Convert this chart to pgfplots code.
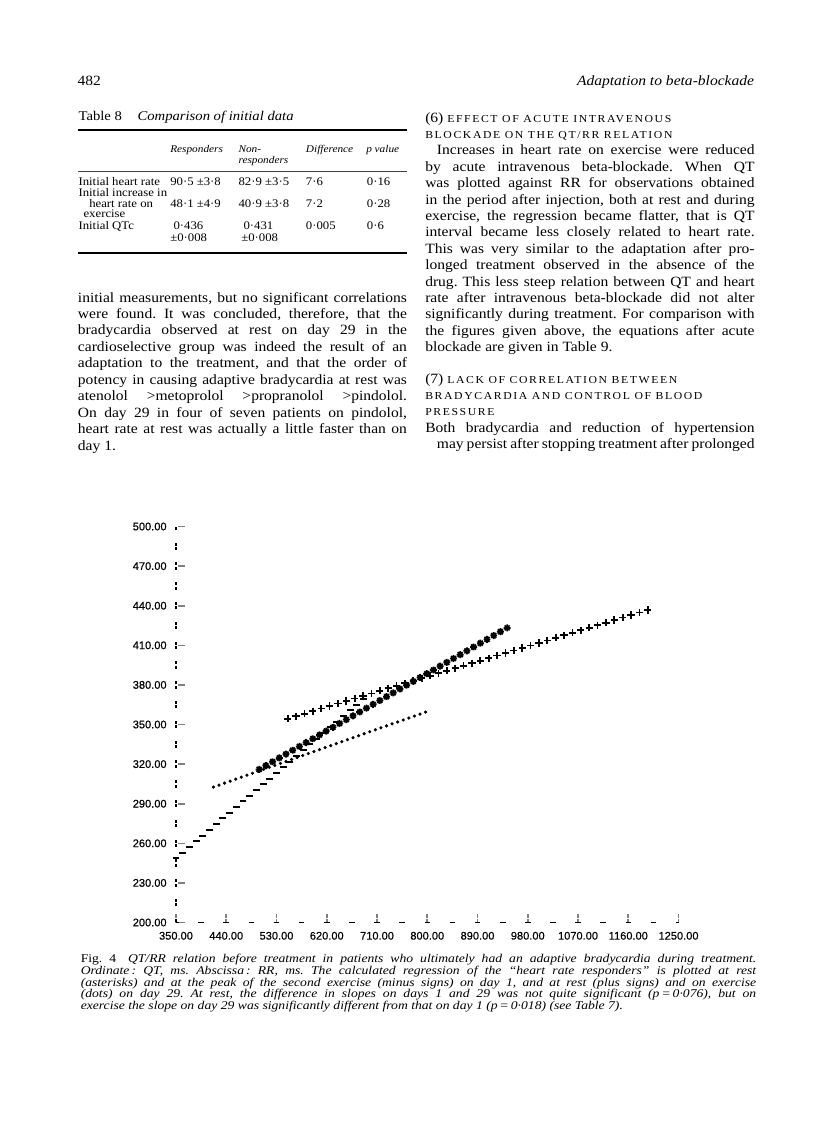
\documentclass[border=0pt]{standalone}
\usepackage{fontspec}
\setmainfont{Liberation Serif}[FakeStretch=1.1]
\newfontfamily\capfam{Liberation Serif}[FakeStretch=1.15]
\newfontfamily\chartfont{Liberation Sans}[FakeBold=0.4]
\usepackage{pgfplots}
\pgfplotsset{compat=1.18}
\frenchspacing

\pgfdeclareplotmark{ast8}{%
 \pgfpathmoveto{\pgfqpoint{0pt}{\pgfplotmarksize}}%
 \pgfpathlineto{\pgfqpoint{0pt}{-\pgfplotmarksize}}%
 \pgfpathmoveto{\pgfqpoint{\pgfplotmarksize}{0pt}}%
 \pgfpathlineto{\pgfqpoint{-\pgfplotmarksize}{0pt}}%
 \pgfpathmoveto{\pgfqpoint{0.707\pgfplotmarksize}{0.707\pgfplotmarksize}}%
 \pgfpathlineto{\pgfqpoint{-0.707\pgfplotmarksize}{-0.707\pgfplotmarksize}}%
 \pgfpathmoveto{\pgfqpoint{-0.707\pgfplotmarksize}{0.707\pgfplotmarksize}}%
 \pgfpathlineto{\pgfqpoint{0.707\pgfplotmarksize}{-0.707\pgfplotmarksize}}%
 \pgfusepathqstroke}

\newcommand\bodyfont{\fontsize{10.6}{12.3}\selectfont}
\newcommand\capfont{\capfam\fontsize{8.9}{9.5}\selectfont\itshape}
\newcommand\tabfont{\fontsize{8.7}{10}\selectfont}
\newcommand\tabhead{\fontsize{7.7}{9}\selectfont\itshape}
\newcommand\hsc[1]{{\fontsize{8}{9}\selectfont\addfontfeature{LetterSpace=15}#1}}
\newcommand\JL[4]{\node[anchor=base west,inner sep=0pt] at (#1,#2) {\makebox[#3pt][s]{#4}};}
\newcommand\TL[3]{\node[anchor=base west,inner sep=0pt] at (#1,#2) {#3};}

\begin{document}
\begin{tikzpicture}
\begin{scope}[x=0.75pt,y=-0.75pt]
\useasboundingbox (0,0) rectangle (816,1121);
% page header
\TL{77.3}{85.5}{\bodyfont 482}
\node[anchor=base east,inner sep=0pt] at (754.3,85.5) {\bodyfont\itshape Adaptation to beta-blockade};
% Table 8
\TL{78.3}{120}{\fontsize{10}{12}\selectfont Table 8}
\TL{137.3}{120}{\fontsize{10}{12}\selectfont\itshape Comparison of initial data}
\draw[line width=1.6pt] (78.3,130) -- (406.7,130);
\TL{170}{152.7}{\tabhead Responders}
\TL{238.3}{152.7}{\tabhead Non-}
\TL{238.3}{163.3}{\tabhead responders}
\TL{305.7}{152.7}{\tabhead Difference}
\TL{366}{152.7}{\tabhead p value}
\draw[line width=0.5pt,black!75] (78.3,171.7) -- (406.7,171.7);
\TL{78.3}{185}{\tabfont Initial heart rate}
\TL{170}{185}{\tabfont 90·5 ±3·8}
\TL{238.3}{185}{\tabfont 82·9 ±3·5}
\TL{305.7}{185}{\tabfont 7·6}
\TL{366.7}{185}{\tabfont 0·16}
\TL{78.3}{196}{\tabfont Initial increase in}
\TL{89}{207.3}{\tabfont heart rate on}
\TL{170}{207.3}{\tabfont 48·1 ±4·9}
\TL{238.3}{207.3}{\tabfont 40·9 ±3·8}
\TL{305.7}{207.3}{\tabfont 7·2}
\TL{366.7}{207.3}{\tabfont 0·28}
\TL{83.3}{217.3}{\tabfont exercise}
\TL{78.3}{229.3}{\tabfont Initial QTc}
\TL{173.3}{229.3}{\tabfont 0·436}
\TL{243.3}{229.3}{\tabfont 0·431}
\TL{305.7}{229.3}{\tabfont 0·005}
\TL{366.7}{229.3}{\tabfont 0·6}
\TL{170}{241.7}{\tabfont ±0·008}
\TL{241}{241.7}{\tabfont ±0·008}
\draw[line width=1.6pt] (78.3,252.7) -- (406.7,252.7);
% left column
\begin{scope}[font=\bodyfont]
\JL{77.7}{302.0}{246.75}{initial measurements, but no significant correlations}
\JL{77.7}{318.5}{246.75}{were found. It was concluded, therefore, that the}
\JL{77.7}{334.9}{246.75}{bradycardia observed at rest on day 29 in the}
\JL{77.7}{351.4}{246.75}{cardioselective group was indeed the result of an}
\JL{77.7}{367.8}{246.75}{adaptation to the treatment, and that the order of}
\JL{77.7}{384.3}{246.75}{potency in causing adaptive bradycardia at rest was}
\JL{77.7}{400.7}{246.75}{atenolol \,>metoprolol \,>propranolol \,>pindolol.}
\JL{77.7}{417.2}{246.75}{On day 29 in four of seven patients on pindolol,}
\JL{77.7}{433.6}{246.75}{heart rate at rest was actually a little faster than on}
\TL{77.7}{450.1}{day 1.}
% right column
\TL{425}{122}{(6) \hsc{EFFECT OF ACUTE INTRAVENOUS}}
\TL{425}{138.4}{\hsc{BLOCKADE ON THE QT/RR RELATION}}
\JL{436.7}{154.8}{238.2}{Increases in heart rate on exercise were reduced}
\JL{425}{171.2}{247}{by acute intravenous beta-blockade. When QT}
\JL{425}{187.6}{247}{was plotted against RR for observations obtained}
\JL{425}{204.0}{247}{in the period after injection, both at rest and during}
\JL{425}{220.4}{247}{exercise, the regression became flatter, that is QT}
\JL{425}{236.8}{247}{interval became less closely related to heart rate.}
\JL{425}{253.2}{247}{This was very similar to the adaptation after pro-}
\JL{425}{269.6}{247}{longed treatment observed in the absence of the}
\JL{425}{286.0}{247}{drug. This less steep relation between QT and heart}
\JL{425}{302.4}{247}{rate after intravenous beta-blockade did not alter}
\JL{425}{318.8}{247}{significantly during treatment. For comparison with}
\JL{425}{335.2}{247}{the figures given above, the equations after acute}
\TL{425}{351.6}{blockade are given in Table 9.}
\TL{425}{383}{(7) \hsc{LACK OF CORRELATION BETWEEN}}
\TL{425}{399.3}{\hsc{BRADYCARDIA AND CONTROL OF BLOOD}}
\TL{425}{415.6}{\hsc{PRESSURE}}
\JL{425}{432}{247}{Both bradycardia and reduction of hypertension}
\JL{436.7}{448.4}{238.2}{may persist after stopping treatment after prolonged}
\end{scope}
% caption
\begin{scope}[font=\capfont]
\JL{80.5}{962.7}{506.6}{\upshape Fig. 4\hspace{1em}\itshape QT/RR relation before treatment in patients who ultimately had an adaptive bradycardia during treatment.}
\JL{80.5}{974.4}{506.6}{Ordinate\,: QT, ms. Abscissa\,: RR, ms. The calculated regression of the “heart rate responders” is plotted at rest}
\JL{80.5}{986.1}{506.6}{(asterisks) and at the peak of the second exercise (minus signs) on day 1, and at rest (plus signs) and on exercise}
\JL{80.5}{997.8}{506.6}{(dots) on day 29. At rest, the difference in slopes on days 1 and 29 was not quite significant (p\,=\,0·076), but on}
\TL{80.5}{1009.5}{exercise the slope on day 29 was significantly different from that on day 1 (p\,=\,0·018) (see Table 7).}
\end{scope}
\end{scope}

\begin{axis}[
  at={(132pt,-691.875pt)}, anchor=south west,
  scale only axis, width=376.9pt, height=297pt,
  xmin=350, xmax=1250, ymin=200, ymax=500,
  clip=false,
  axis x line*=bottom, axis y line*=left,
  x axis line style={line width=1.2pt, dash pattern=on 4.2pt off 14.65pt, dash phase=2.1pt},
  y axis line style={line width=1.2pt, dash pattern=on 2.2pt off 1.1pt on 2.2pt off 9.35pt, dash phase=2.75pt},
  xtick={350,440,530,620,710,800,890,980,1070,1160,1250},
  xticklabels={350.00,440.00,530.00,620.00,710.00,800.00,890.00,980.00,1070.00,1160.00,1250.00},
  ytick={200,230,260,290,320,350,380,410,440,470,500},
  yticklabels={200.00,230.00,260.00,290.00,320.00,350.00,380.00,410.00,440.00,470.00,500.00},
  tick align=inside, major tick length=6.5pt,
  xtick style={line width=1.2pt, dash pattern=on 2.6pt off 1pt on 2.9pt off 0pt},
  ytick style={line width=1.2pt, dash pattern=on 0pt off 1.5pt on 5pt off 0pt},
  ticklabel style={font=\chartfont\fontsize{8.3}{9}\selectfont},
  yticklabel style={xshift=-3.5pt},
  xticklabel style={yshift=-3.5pt},
]
% rest, day 1 (asterisks)
\addplot[black, only marks, mark=ast8, mark size=2.6pt, mark options={line width=1.3pt}] coordinates {
(499,316.0)(511,318.9)(523,321.8)(535,324.7)(547,327.6)(559,330.5)(571,333.4)(583,336.3)
(595,339.2)(607,342.1)(619,345.0)(631,347.9)(643,350.8)(655,353.7)(667,356.6)(679,359.5)
(691,362.4)(703,365.3)(715,368.2)(727,371.1)(739,374.0)(751,376.9)(763,379.8)(775,382.7)
(787,385.6)(799,388.5)(811,391.3)(823,394.2)(835,397.1)(847,400.0)(859,402.9)(871,405.8)
(883,408.7)(895,411.6)(907,414.5)(919,417.4)(931,420.3)(943,423.2)};
% exercise, day 1 (minus signs)
\addplot[black, only marks, mark=-, mark size=2.6pt, mark options={line width=1.5pt}] coordinates {
(350,248.6)(362,252.9)(374,257.2)(386,261.5)(398,265.9)(410,270.2)(422,274.5)(434,278.8)
(446,283.1)(458,287.4)(470,291.7)(482,296.0)(494,300.4)(506,304.7)(518,309.0)(530,313.3)
(542,317.6)(554,321.9)(566,326.2)(578,330.5)(590,334.9)(602,339.2)(614,343.5)(626,347.8)
(638,352.1)(650,356.4)(662,360.7)(674,365.0)(686,369.4)};
% rest, day 29 (plus signs)
\addplot[black, only marks, mark=+, mark size=2.7pt, mark options={line width=1.35pt}] coordinates {
(550,354.4)(565,356.3)(580,358.2)(595,360.1)(610,362.1)(625,364.0)(640,365.9)(655,367.8)
(670,369.7)(685,371.6)(700,373.5)(715,375.5)(730,377.4)(745,379.3)(760,381.2)(775,383.1)
(790,385.0)(805,386.9)(820,388.9)(835,390.8)(850,392.7)(865,394.6)(880,396.5)(895,398.4)
(910,400.3)(925,402.3)(940,404.2)(955,406.1)(970,408.0)(985,409.9)(1000,411.8)(1015,413.7)
(1030,415.7)(1045,417.6)(1060,419.5)(1075,421.4)(1090,423.3)(1105,425.2)(1120,427.1)(1135,429.1)
(1150,431.0)(1165,432.9)(1180,434.8)(1195,436.7)};
% exercise, day 29 (dots)
\addplot[black, only marks, mark=*, mark size=1.0pt] coordinates {
(417,302.6)(427,304.1)(437,305.6)(447,307.1)(457,308.6)(467,310.1)(477,311.6)(487,313.1)
(497,314.6)(507,316.1)(517,317.6)(527,319.0)(537,320.5)(547,322.0)(557,323.5)(567,325.0)
(577,326.5)(587,328.0)(597,329.5)(607,331.0)(617,332.5)(627,334.0)(637,335.5)(647,337.0)
(657,338.5)(667,340.0)(677,341.5)(687,343.0)(697,344.5)(707,346.0)(717,347.5)(727,349.0)
(737,350.5)(747,351.9)(757,353.4)(767,354.9)(777,356.4)(787,357.9)(797,359.4)};
\end{axis}
\end{tikzpicture}
\end{document}
